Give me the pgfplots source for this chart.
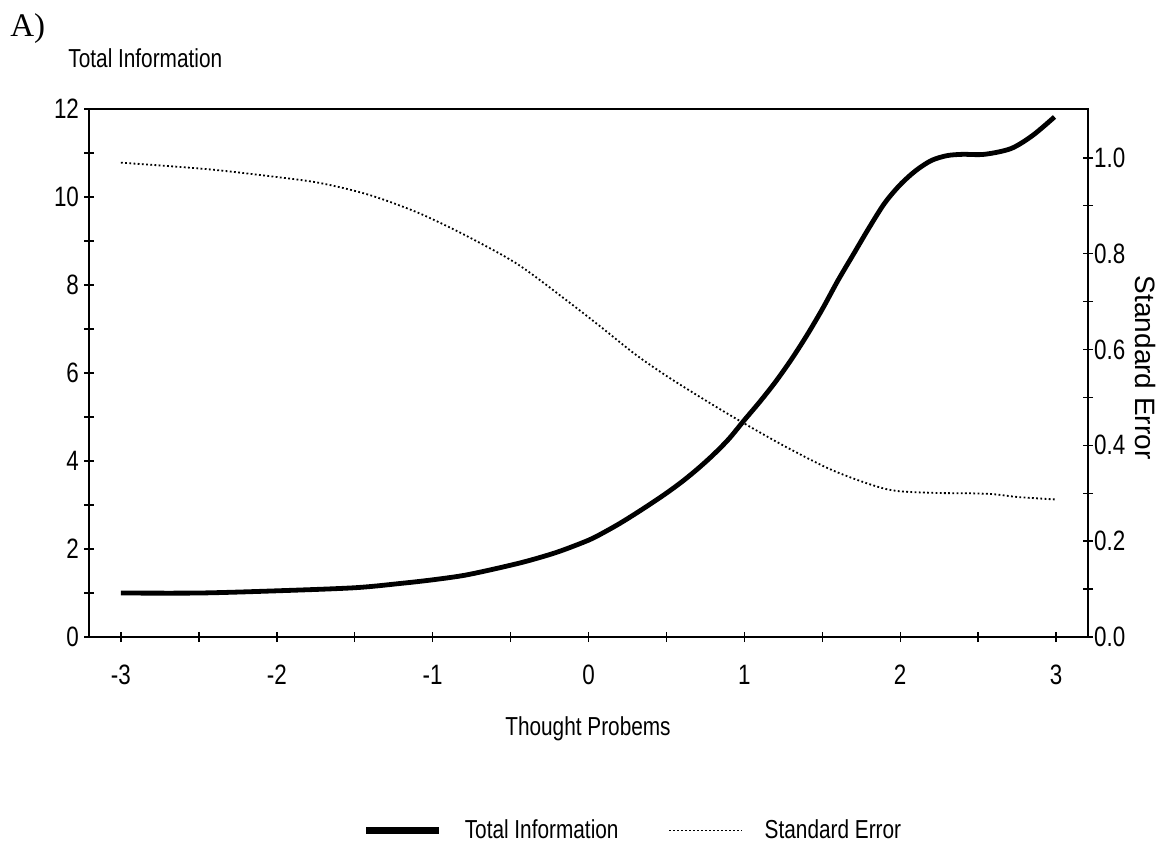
\documentclass[border=0pt]{standalone}
\usepackage{pgfplots}
\pgfplotsset{compat=1.18}
\usepackage{fontspec}
\setmainfont{Liberation Sans}[FakeStretch=0.8]
\newfontfamily\serifA{Liberation Serif}
\newfontfamily\plainsans{Liberation Sans}

\pgfplotstableread{
x info
-3.00 1.00
-2.50 1.00
-2.00 1.05
-1.50 1.12
-1.20 1.22
-1.00 1.30
-0.80 1.40
-0.60 1.55
-0.40 1.72
-0.20 1.93
0.00 2.20
0.10 2.38
0.20 2.58
0.30 2.80
0.40 3.03
0.50 3.27
0.60 3.53
0.70 3.82
0.80 4.14
0.90 4.50
1.00 4.93
1.10 5.35
1.20 5.80
1.30 6.30
1.40 6.85
1.50 7.45
1.60 8.10
1.70 8.70
1.80 9.30
1.90 9.86
2.00 10.28
2.10 10.60
2.20 10.83
2.30 10.94
2.40 10.97
2.54 10.97
2.71 11.10
2.85 11.40
2.99 11.82
}\infotable

\pgfplotstableread{
x se
-3.00 0.990
-2.70 0.983
-2.40 0.975
-2.05 0.962
-1.73 0.948
-1.41 0.923
-1.09 0.885
-0.77 0.835
-0.45 0.777
-0.13 0.700
0.08 0.647
0.30 0.590
0.50 0.545
0.72 0.500
0.95 0.455
1.26 0.398
1.58 0.346
1.92 0.308
2.20 0.301
2.44 0.300
2.60 0.298
2.76 0.292
3.00 0.287
}\setable

\begin{document}
\begin{tikzpicture}
\useasboundingbox (-44.5pt,-103pt) rectangle (535pt,318.5pt);
\node[anchor=base west, inner sep=0pt, font=\serifA\fontsize{16.5}{19}\selectfont] at (-39.5pt,300.5pt) {A)};
\begin{axis}[
  at={(0,0)}, anchor=south west,
  scale only axis, width=499.5pt, height=264pt,
  xmin=-3.205, xmax=3.205, ymin=0, ymax=12,
  xtick={-3,-2,-1,0,1,2,3}, minor xtick={-2.5,-1.5,-0.5,0.5,1.5,2.5},
  ytick={0,2,4,6,8,10,12}, minor ytick={1,3,5,7,9,11},
  xtick pos=left, ytick pos=left,
  tick align=center, major tick length=5pt, minor tick length=5pt,
  every tick/.style={black, line width=0.7pt},
  axis line style={line width=0.8pt},
  /pgf/number format/assume math mode=true,
  ticklabel style={font=\fontsize{14}{16}\selectfont},
  xticklabel style={yshift=-8pt},
  yticklabel style={xshift=1pt},
  xlabel={Thought Probems}, ylabel={Total Information},
  xlabel style={at={(axis description cs:0.4995,-0.1856)}, anchor=base, font=\fontsize{13}{15}\selectfont},
  ylabel style={at={(axis description cs:-0.021,1.0777)}, rotate=-90, anchor=base west, inner sep=0pt, font=\fontsize{13}{15}\selectfont},
  legend columns=2,
  legend style={draw=none, fill=none, at={(axis description cs:0.5455,-0.367)}, anchor=center,
    font=\fontsize{13}{15}\selectfont,
    /tikz/every odd column/.append style={column sep=9pt},
    /tikz/every even column/.append style={column sep=23pt}},
  legend cell align=left,
]
\addplot[black, line width=2.4pt, smooth, tension=0.5,
  legend image code/.code={\draw[black, line width=3.5pt] (0pt,0pt) -- (36.5pt,0pt);}]
  table[x=x, y=info] {\infotable};
\addlegendentry{Total Information}
\addlegendimage{black, line width=0.6pt, dash pattern=on 0.8pt off 1.2pt,
  legend image code/.code={\draw[black, line width=0.6pt, dash pattern=on 0.8pt off 1.2pt] (0pt,0pt) -- (36.5pt,0pt);}}
\addlegendentry{Standard Error}
\end{axis}
\begin{axis}[
  at={(0,0)}, anchor=south west,
  scale only axis, width=499.5pt, height=264pt,
  xmin=-3.205, xmax=3.205, ymin=0, ymax=1.102,
  axis x line=none, axis y line*=right,
  ytick={0,0.2,0.4,0.6,0.8,1.0}, minor ytick={0.1,0.3,0.5,0.7,0.9},
  tick align=center, major tick length=5pt, minor tick length=5pt,
  every tick/.style={black, line width=0.7pt},
  axis line style={line width=0.8pt},
  /pgf/number format/assume math mode=true,
  yticklabel style={font=\fontsize{14}{16}\selectfont, xshift=-3pt,
    /pgf/number format/fixed, /pgf/number format/fixed zerofill, /pgf/number format/precision=1},
  ylabel={Standard Error},
  ylabel style={at={(axis description cs:1.058,0.51)}, rotate=180, anchor=center, font=\plainsans\fontsize{14}{16}\selectfont},
]
\addplot[black, line width=0.9pt, dash pattern=on 0.9pt off 1.2pt, smooth, tension=0.5]
  table[x=x, y=se] {\setable};
\end{axis}
\end{tikzpicture}
\end{document}
